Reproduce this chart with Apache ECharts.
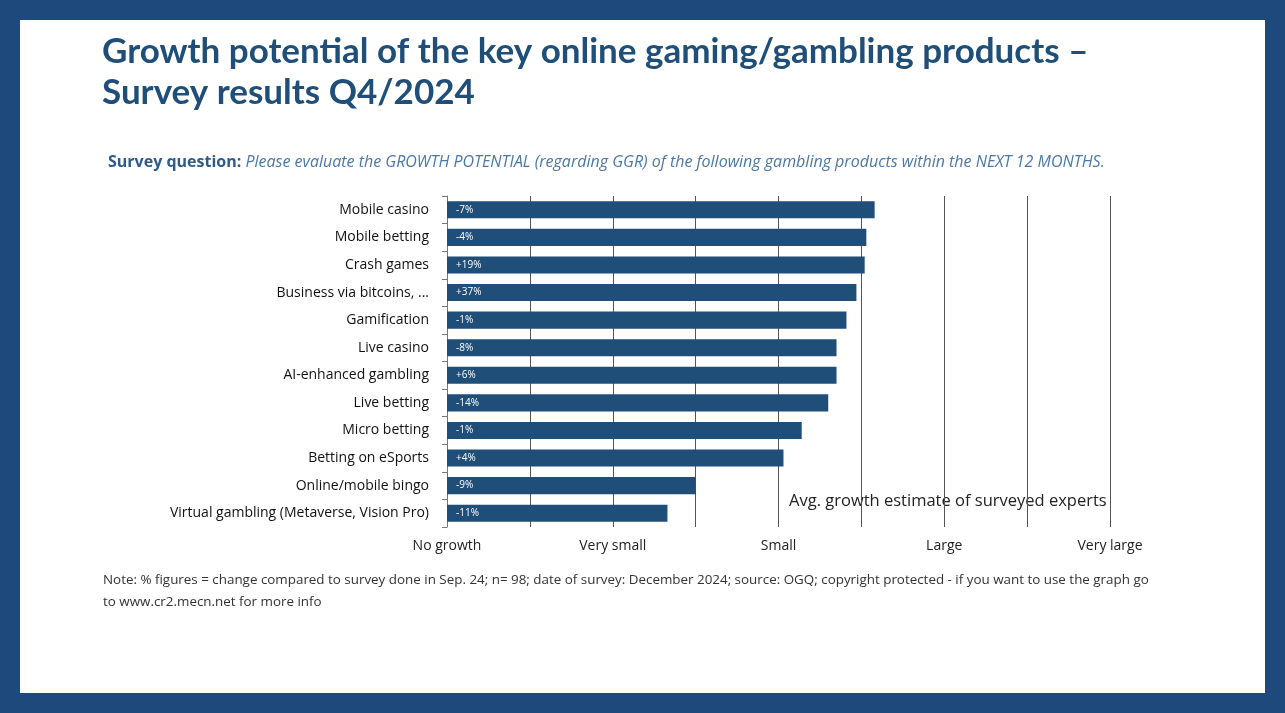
<!DOCTYPE html><html><head><meta charset="utf-8">
<script src="https://cdn.jsdelivr.net/npm/echarts@6/dist/echarts.min.js"></script>
<style>html,body{margin:0;padding:0;background:#1d497c;}
#wrap{position:absolute;left:20px;top:20px;width:1245px;height:673px;background:#fff;}
#c{position:absolute;left:0;top:0;width:1285px;height:713px;}</style></head><body>
<div id="wrap"></div><div id="c"></div>
<script>
const categories=["Mobile casino","Mobile betting","Crash games","Business via bitcoins, ...","Gamification","Live casino","AI-enhanced gambling","Live betting","Micro betting","Betting on eSports","Online/mobile bingo","Virtual gambling (Metaverse, Vision Pro)"];
const values=[2.58,2.53,2.52,2.47,2.41,2.35,2.35,2.30,2.14,2.03,1.50,1.33];
const changes=["-7%","-4%","+19%","+37%","-1%","-8%","+6%","-14%","-1%","+4%","-9%","-11%"];
const tickLabels=["No growth","Very small","Small","Large","Very large"];
const ch=echarts.init(document.getElementById('c'));
const ff='Open Sans, Liberation Sans, sans-serif';
ch.setOption({
 animation:false,
 title:[{text:'Growth potential of the key online gaming/gambling products –\nSurvey results Q4/2024',left:97,top:26,textStyle:{color:'#1f4e79',fontSize:35,fontWeight:'bold',fontFamily:'Lato, sans-serif',lineHeight:41}}],
 graphic:[
  {type:'text',left:108,top:154,style:{rich:{a:{fill:'#2e5c8a',fontWeight:'bold',fontSize:16,fontFamily:ff},b:{fill:'#4a78a8',fontStyle:'italic',fontSize:16,fontFamily:ff}},text:'{a|Survey question: }{b|Please evaluate the GROWTH POTENTIAL (regarding GGR) of the following gambling products within the NEXT 12 MONTHS.}'}},
  {type:'text',left:789,top:493,style:{text:'Avg. growth estimate of surveyed experts',fill:'#222',fontSize:16.5,fontFamily:ff}},
  {type:'text',left:103,top:569,style:{text:'Note: % figures = change compared to survey done in Sep. 24; n= 98; date of survey: December 2024; source: OGQ; copyright protected - if you want to use the graph go\nto www.cr2.mecn.net for more info',fill:'#333',fontSize:13.4,lineHeight:22,fontFamily:ff}}
 ],
 grid:{left:447,right:175,top:196,bottom:186},
 xAxis:{type:'value',min:0,max:4,interval:0.5,
  axisLine:{show:false},axisTick:{show:false},
  splitLine:{show:true,lineStyle:{color:'#555',width:1}},
  axisLabel:{fontSize:14,color:'#222',fontFamily:ff,margin:12,formatter:v=>Number.isInteger(v)?tickLabels[v]:''}},
 yAxis:{type:'category',data:categories,inverse:true,
  axisLine:{show:true,lineStyle:{color:'#777'}},axisTick:{show:true,lineStyle:{color:'#777'}},
  axisLabel:{fontSize:14,color:'#111',fontFamily:ff,margin:18}},
 series:[{type:'bar',data:values,barCategoryGap:'38%',itemStyle:{color:'#1f4e79'},z:3,
  label:{show:true,position:'insideLeft',color:'#fff',fontSize:10,fontFamily:ff,offset:[4,0],formatter:p=>changes[p.dataIndex]}}]
});
</script></body></html>
